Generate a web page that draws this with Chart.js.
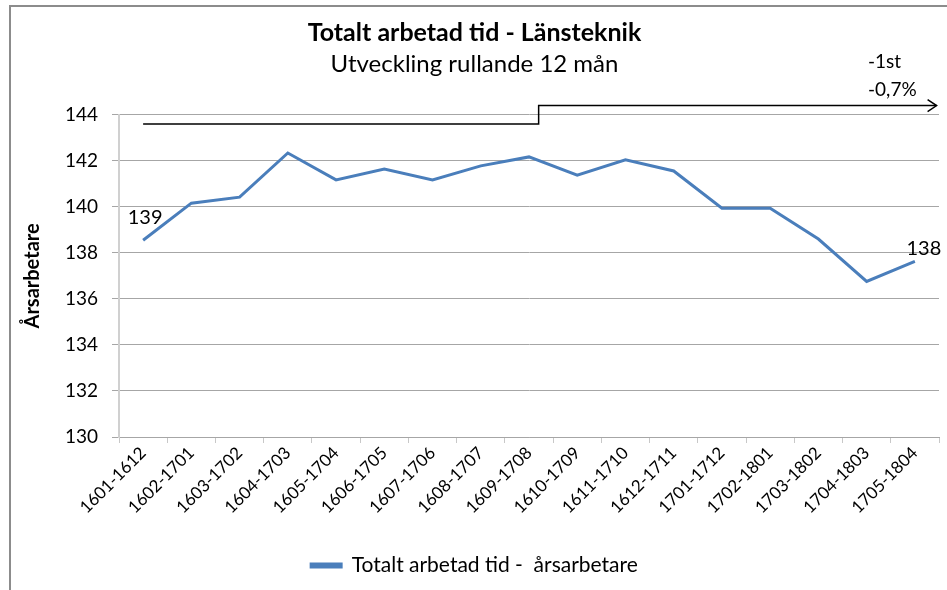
<!DOCTYPE html>
<html>
<head>
<meta charset="utf-8">
<script src="https://cdn.jsdelivr.net/npm/chart.js@4"></script>
<style>
  html, body { margin: 0; padding: 0; background: #fff; overflow: hidden; }
  .frame { position: absolute; left: 9px; top: 5px; width: 1000px; height: 1000px;
           border-left: 2px solid #8c8c8c; border-top: 2px solid #8c8c8c; }
  .wrap { position: absolute; left: 0; top: 0; width: 947px; height: 590px; }
</style>
</head>
<body>
<div class="frame"></div>
<div class="wrap"><canvas id="chart"></canvas></div>
<script>
/* ── Data ───────────────────────────────────────────────── */

const periods = ['1601-1612','1602-1701','1603-1702','1604-1703','1605-1704','1606-1705',
                 '1607-1706','1608-1707','1609-1708','1610-1709','1611-1710','1612-1711',
                 '1701-1712','1702-1801','1703-1802','1704-1803','1705-1804'];

const arsarbetare = [138.55, 140.16, 140.42, 142.34, 141.17, 141.64, 141.17, 141.78, 142.17,
                     141.38, 142.04, 141.56, 139.94, 139.94, 138.6, 136.76, 137.63];

const yTicks = [130, 132, 134, 136, 138, 140, 142, 144];

// end labels: index + text
const endLabels = [{ i: 0, text: '139' }, { i: 16, text: '138' }];

// step arrow annotation, in category index / value units
const stepX = [0, 8.2, 8.2, 16.45];
const stepY = [143.6, 143.6, 144.4, 144.4];

const changeText = ['-1st', '-0,7%'];

/* ── Config ─────────────────────────────────────────────── */

const FONT = 'Lato, "Liberation Sans", sans-serif';
const BLUE = '#4a7ebb';
const GRID = '#a6a6a6';

/* ── Annotation plugin ──────────────────────────────────── */

const annotations = {
  id: 'annotations',
  afterDatasetsDraw(chart) {
    const { ctx, scales: { x, y } } = chart;
    const meta = chart.getDatasetMeta(0);

    ctx.save();

    // end value labels
    ctx.fillStyle = '#000';
    ctx.font = '20px ' + FONT;
    ctx.textAlign = 'center';
    ctx.textBaseline = 'middle';
    endLabels.forEach(l => {
      const p = meta.data[l.i];
      if (l.i === 0) ctx.fillText(l.text, p.x + 2, p.y - 23);
      else ctx.fillText(l.text, p.x + 9, p.y - 13);
    });

    // step arrow
    ctx.strokeStyle = '#000';
    ctx.lineWidth = 1.5;
    ctx.beginPath();
    stepX.forEach((v, i) => {
      const px = x.getPixelForValue(v);
      const py = y.getPixelForValue(stepY[i]);
      if (i === 0) ctx.moveTo(px, py); else ctx.lineTo(px, py);
    });
    ctx.stroke();
    const ex = x.getPixelForValue(stepX[stepX.length - 1]);
    const ey = y.getPixelForValue(stepY[stepY.length - 1]);
    ctx.beginPath();
    ctx.moveTo(ex - 9, ey - 6);
    ctx.lineTo(ex, ey);
    ctx.lineTo(ex - 9, ey + 6);
    ctx.stroke();

    // change text
    ctx.textAlign = 'left';
    ctx.font = '19px ' + FONT;
    changeText.forEach((t, i) => ctx.fillText(t, 868, 62 + i * 28));

    ctx.restore();
  }
};

/* ── Chart ──────────────────────────────────────────────── */

new Chart(document.getElementById('chart'), {
  type: 'line',
  data: {
    labels: periods,
    datasets: [{
      label: 'Totalt arbetad tid -  årsarbetare',
      data: arsarbetare,
      borderColor: BLUE,
      backgroundColor: BLUE,
      borderWidth: 3,
      pointRadius: 0,
      tension: 0
    }]
  },
  options: {
    responsive: true,
    maintainAspectRatio: false,
    animation: false,
    layout: { padding: { left: 10, right: 8, top: 0, bottom: 4 } },
    plugins: {
      title: {
        display: true,
        text: 'Totalt arbetad tid - Länsteknik',
        color: '#000',
        font: { family: FONT, size: 25, weight: 'bold', lineHeight: 1.2 },
        padding: { top: 18, bottom: 2 }
      },
      subtitle: {
        display: true,
        text: 'Utveckling rullande 12 mån',
        color: '#000',
        font: { family: FONT, size: 24, lineHeight: 1.2 },
        padding: { top: 0, bottom: 36 }
      },
      legend: {
        position: 'bottom',
        labels: {
          color: '#000',
          font: { family: FONT, size: 21 },
          boxWidth: 30,
          boxHeight: 3,
          padding: 10
        }
      },
      tooltip: { enabled: false }
    },
    scales: {
      x: {
        offset: true,
        afterFit: s => { s.height = 108; },
        grid: { drawOnChartArea: false, offset: true, color: '#c8c8c8', tickLength: 6 },
        border: { color: GRID },
        ticks: { color: '#000', font: { family: FONT, size: 17 }, maxRotation: 45, minRotation: 45, autoSkip: false, padding: 0 }
      },
      y: {
        min: 130,
        max: 144,
        afterFit: s => { s.width = 109; },
        afterBuildTicks: s => { s.ticks = yTicks.map(v => ({ value: v })); },
        grid: { color: GRID, tickLength: 7 },
        border: { color: '#d0d0d0', width: 2 },
        ticks: { color: '#000', font: { family: FONT, size: 19 }, padding: 14 },
        title: {
          display: true,
          text: 'Årsarbetare',
          color: '#000',
          font: { family: FONT, size: 20, weight: 'bold', lineHeight: 1.2 },
          padding: { top: 11, bottom: 0 }
        }
      }
    }
  },
  plugins: [annotations]
});
</script>
</body>
</html>
